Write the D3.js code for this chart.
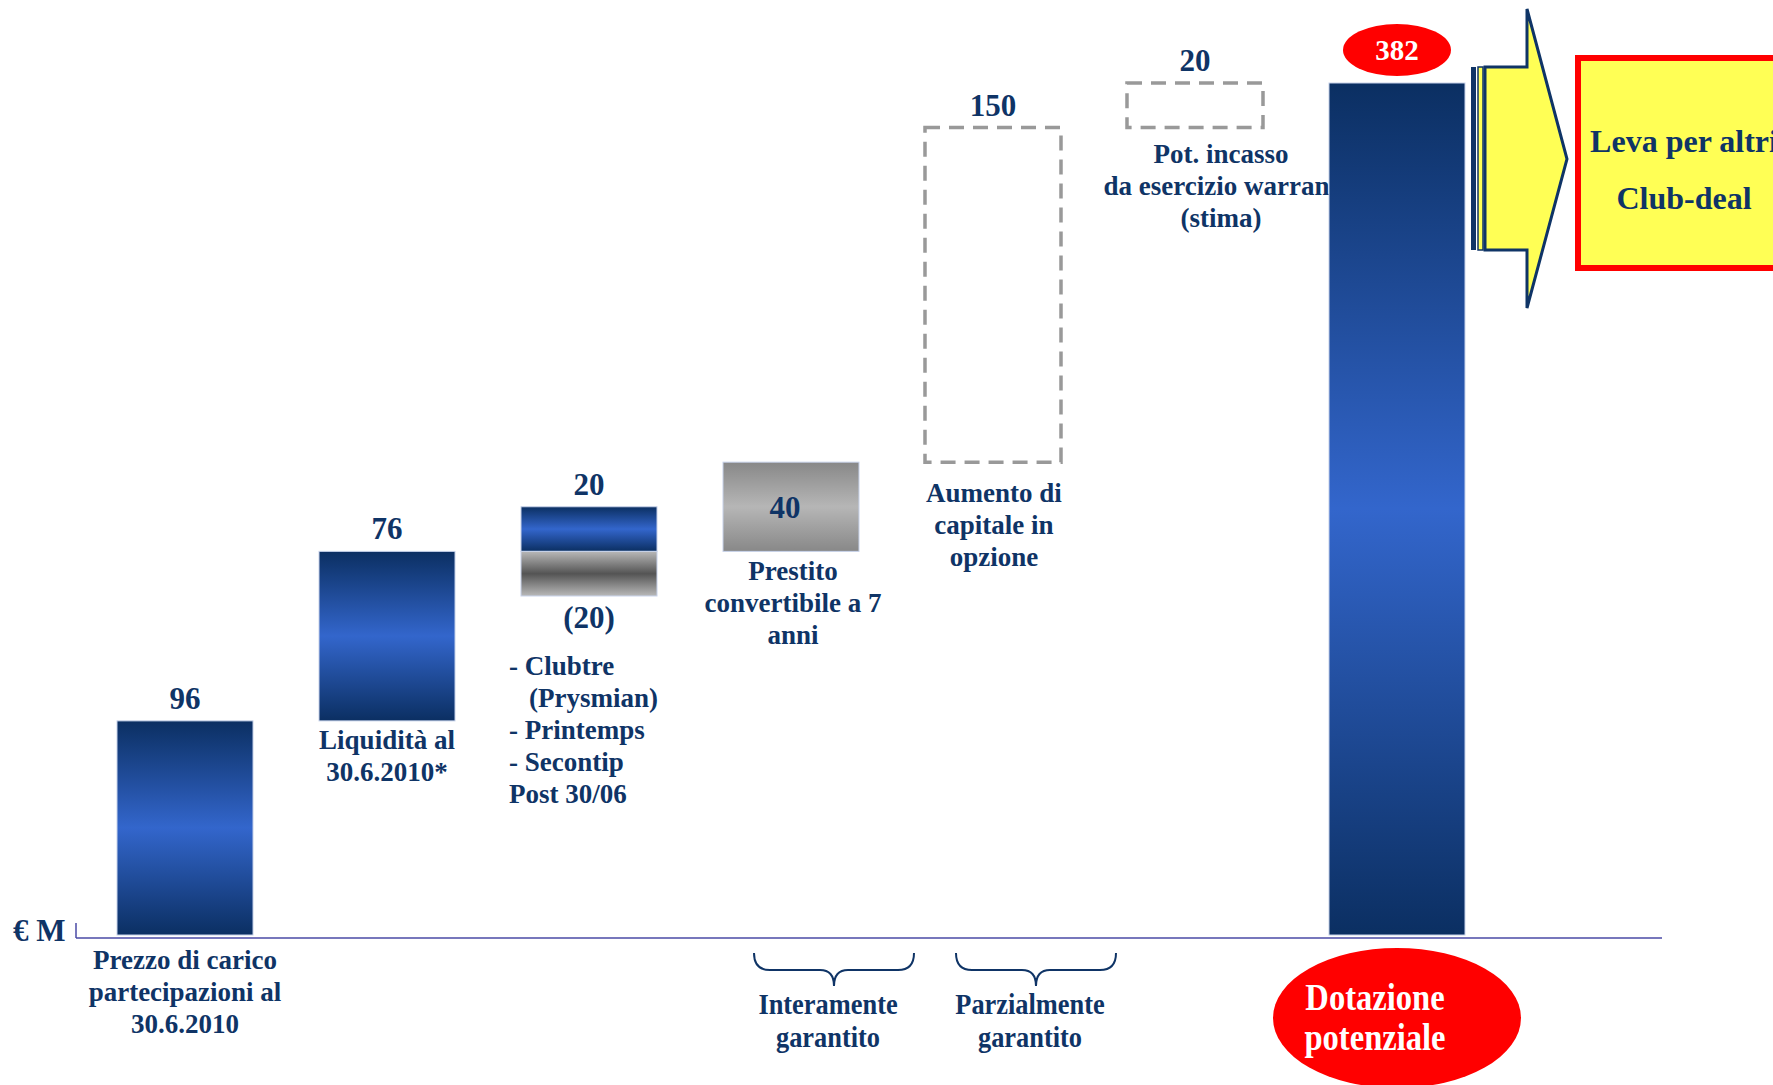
<!DOCTYPE html>
<html>
<head>
<meta charset="utf-8">
<script src="https://cdn.jsdelivr.net/npm/d3@7"></script>
<style>
  body { margin: 0; background: #fff; }
  svg { display: block; font-family: "Liberation Serif", "Times New Roman", serif; font-weight: bold; }
</style>
</head>
<body>
<div id="chart"></div>
<script>
// waterfall steps (€ M)
const segKeys = ["carico", "liquidita", "post", "post", "prestito", "aumento", "warrant"];
const segKinds = ["solid", "solid", "solid", "uscita", "prestito", "stima", "stima"];
const segValues = [96, 76, 20, -20, 40, 150, 20];
const barKeys = ["carico", "liquidita", "post", "prestito", "aumento", "warrant", "totale"];

const catLabels = {
	carico: ["Prezzo di carico", "partecipazioni al", "30.6.2010"],
	liquidita: ["Liquidità al", "30.6.2010*"],
	post: ["- Clubtre", "(Prysmian)", "- Printemps", "- Secontip", "Post 30/06"],
	prestito: ["Prestito", "convertibile a 7", "anni"],
	aumento: ["Aumento di", "capitale in", "opzione"],
	warrant: ["Pot. incasso", "da esercizio warrant", "(stima)"]
};
const braceKeys = ["prestito", "aumento"];
const braceLabels = [["Interamente", "garantito"], ["Parzialmente", "garantito"]];
const totalLabel = ["Dotazione", "potenziale"];
const calloutLabel = ["Leva per altri", "Club-deal"];
const unitLabel = "€ M";

const W = 1773, H = 1085;
const navy = "#0f3466";

const svg = d3.select("#chart").append("svg")
	.attr("width", W)
	.attr("height", H);

const defs = svg.append("defs");
function grad(id, stops, x2, y2) {
	const g = defs.append("linearGradient").attr("id", id)
		.attr("x1", 0).attr("y1", 0).attr("x2", x2).attr("y2", y2);
	stops.forEach(s => g.append("stop").attr("offset", s[0]).attr("stop-color", s[1]).attr("stop-opacity", s[2] == null ? 1 : s[2]));
}
grad("gBlue", [[0, "#0b2f62"], [0.5, "#3366cc"], [1, "#0b2f62"]], 0, 1);
grad("gDark", [[0, "#b8b8b8"], [0.5, "#545454"], [1, "#b8b8b8"]], 0, 1);
grad("gGrey", [[0, "#888888"], [0.5, "#b6b6b6"], [1, "#888888"]], 0, 1);
grad("gEdge", [[0, "#2d4f8f"], [0.55, "#c9d3e6"], [1, "#ffffff", 0]], 0, 1);

// scales
const x = d3.scaleBand()
	.domain(barKeys)
	.range([84, 1498])
	.paddingInner(0.3267)
	.paddingOuter(0.1634);

const total = d3.sum(segValues);
const y = d3.scaleLinear()
	.domain([0, total])
	.range([935, 83]);

// build waterfall rects
let run = 0;
const segs = segValues.map((v, i) => {
	let lo, hi;
	if (v >= 0) { lo = run; hi = run + v; run = hi; }
	else {
		// drawn beneath the previous step of the same group
		const prev = segValues[i - 1];
		hi = run - prev; lo = hi + v; run = run + v;
	}
	return { key: segKeys[i], kind: segKinds[i], value: v, lo, hi };
});
segs.push({ key: "totale", kind: "solid", value: total, lo: 0, hi: total });

// faded left rule
svg.append("line")
	.attr("x1", 14).attr("x2", 14).attr("y1", 0).attr("y2", 340)
	.attr("stroke", "url(#gEdge)").attr("stroke-width", 2.5);

// baseline
svg.append("line")
	.attr("x1", 76).attr("x2", 1662)
	.attr("y1", y(0) + 3).attr("y2", y(0) + 3)
	.attr("stroke", "#4a4aa6").attr("stroke-width", 1.5);
svg.append("line")
	.attr("x1", 76).attr("x2", 76)
	.attr("y1", y(0) - 12).attr("y2", y(0) + 3)
	.attr("stroke", "#4a4aa6").attr("stroke-width", 1.5);

svg.append("text")
	.attr("x", 13).attr("y", y(0) + 6)
	.attr("font-size", 31).attr("fill", navy)
	.text(unitLabel);

const fillFor = { solid: "url(#gBlue)", uscita: "url(#gDark)", prestito: "url(#gGrey)", stima: "none" };

// category labels (drawn before the total bar so it overlaps like the original)
function lines(g, arr, xp, y0, anchor, size, lh) {
	return g.append("text")
		.attr("text-anchor", anchor)
		.attr("font-size", size)
		.attr("fill", navy)
		.call(t => t.selectAll("tspan")
			.data(arr)
			.join("tspan")
			.attr("x", xp)
			.attr("y", (d, i) => y0 + i * lh)
			.text(d => d));
}

const cx = k => x(k) + x.bandwidth() / 2;
const labels = svg.append("g");
const fs = 27;
lines(labels, catLabels.carico, cx("carico"), y(0) + 34, "middle", fs, 32);
lines(labels, catLabels.liquidita, cx("liquidita"), y(96) + 28, "middle", fs, 32);
const postLow = d3.min(segs.filter(s => s.key === "post"), s => s.lo);
labels.append("text")
	.attr("text-anchor", "start").attr("font-size", fs).attr("fill", navy)
	.selectAll("tspan").data(catLabels.post).join("tspan")
	.attr("x", (d, i) => x("post") - 12 + (i === 1 ? 20 : 0))
	.attr("y", (d, i) => y(postLow) + 79 + i * 32)
	.text(d => d);
const prestito = segs.find(s => s.key === "prestito");
lines(labels, catLabels.prestito, cx("prestito") + 2, y(prestito.lo) + 29, "middle", fs, 32);
const aumento = segs.find(s => s.key === "aumento");
lines(labels, catLabels.aumento, cx("aumento") + 1, y(aumento.lo) + 40, "middle", fs, 32);
const warrant = segs.find(s => s.key === "warrant");
lines(labels, catLabels.warrant, cx("warrant") + 26, y(warrant.lo) + 35, "middle", fs, 32);

// bars
svg.append("g").selectAll("rect")
	.data(segs)
	.join("rect")
	.attr("x", d => x(d.key))
	.attr("width", x.bandwidth())
	.attr("y", d => y(d.hi))
	.attr("height", d => y(d.lo) - y(d.hi))
	.attr("fill", d => fillFor[d.kind])
	.attr("stroke", d => d.kind === "stima" ? "#999" : "#c7d2ea")
	.attr("stroke-width", d => d.kind === "stima" ? 3.5 : 1)
	.attr("stroke-dasharray", d => d.kind === "stima" ? "15 9" : null);

// value labels
const fmt = v => v < 0 ? `(${-v})` : `${v}`;
svg.append("g").selectAll("text")
	.data(segs.filter(s => s.key !== "totale"))
	.join("text")
	.attr("text-anchor", "middle")
	.attr("font-size", 31)
	.attr("fill", navy)
	.attr("x", d => cx(d.key) - (d.kind === "prestito" ? 6 : 0))
	.attr("y", d => {
		if (d.kind === "prestito") return (y(d.hi) + y(d.lo)) / 2 + 11;
		if (d.value < 0) return y(d.lo) + 32;
		return y(d.hi) - 12;
	})
	.text(d => fmt(d.value));

// total bubble
const tx = cx("totale");
svg.append("ellipse")
	.attr("cx", tx).attr("cy", y(total) - 33)
	.attr("rx", 54).attr("ry", 26)
	.attr("fill", "#ff0000");
svg.append("text")
	.attr("x", tx).attr("y", y(total) - 23)
	.attr("text-anchor", "middle").attr("font-size", 29).attr("fill", "#fff")
	.text(total);

svg.append("ellipse")
	.attr("cx", tx).attr("cy", y(0) + 83)
	.attr("rx", 124).attr("ry", 70)
	.attr("fill", "#ff0000");
const dot = svg.append("g").attr("transform", `translate(${tx - 22},0) scale(0.88,1)`);
lines(dot, totalLabel, 0, y(0) + 75, "middle", 37, 40).attr("fill", "#fff");

// braces
braceKeys.forEach((k, i) => {
	const c = cx(k) + 43, w = 80;
	const y0 = y(0) + 18, ym = y(0) + 35, yb = y(0) + 51;
	svg.append("path")
		.attr("d", `M${c - w},${y0} Q${c - w},${ym} ${c - w + 16},${ym} L${c - 14},${ym} Q${c},${ym} ${c},${yb} Q${c},${ym} ${c + 14},${ym} L${c + w - 16},${ym} Q${c + w},${ym} ${c + w},${y0}`)
		.attr("fill", "none").attr("stroke", navy).attr("stroke-width", 2);
	const g = svg.append("g").attr("transform", `translate(${c - 6},0) scale(0.88,1)`);
	lines(g, braceLabels[i], 0, y(0) + 79, "middle", 30, 33);
});

// arrow to callout
const ay0 = 67, ay1 = 250, ax0 = 1485, ax1 = 1527, atip = 1567;
svg.append("rect").attr("x", 1471).attr("y", ay0).attr("width", 5).attr("height", ay1 - ay0).attr("fill", navy);
svg.append("rect").attr("x", 1478).attr("y", ay0).attr("width", 5).attr("height", ay1 - ay0)
	.attr("fill", "#ffff55").attr("stroke", navy).attr("stroke-width", 1.5);
svg.append("path")
	.attr("d", `M${ax0},${ay0} L${ax1},${ay0} L${ax1},9 L${atip},159 L${ax1},308 L${ax1},${ay1} L${ax0},${ay1} Z`)
	.attr("fill", "#ffff55").attr("stroke", navy).attr("stroke-width", 3);

svg.append("rect")
	.attr("x", 1578).attr("y", 58).attr("width", 260).attr("height", 210)
	.attr("fill", "#ffff55").attr("stroke", "#ff0000").attr("stroke-width", 6);
lines(svg, calloutLabel, 1684, 152, "middle", 32, 57);
</script>
</body>
</html>
